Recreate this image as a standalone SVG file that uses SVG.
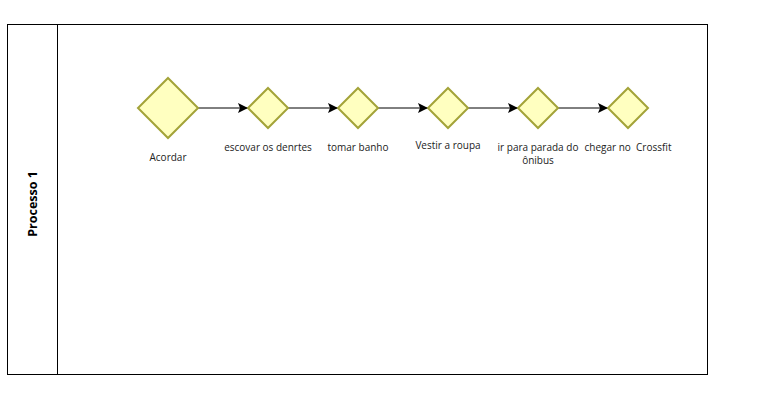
<svg xmlns="http://www.w3.org/2000/svg" width="768" height="411" viewBox="0 0 768 411">
<style>
.gw{fill:#ffffc0;stroke:#a3a338;stroke-width:2}
.lbl{font-family:"Open Sans","Noto Sans",sans-serif;font-size:10px;fill:#222;text-anchor:middle}
.pool{fill:#fff;stroke:#000;stroke-width:1}
.edge{stroke:#000;stroke-width:1;fill:none;marker-end:url(#arr)}
</style>
<defs>
<marker id="arr" viewBox="0 0 10 10" refX="10" refY="5" markerWidth="10" markerHeight="10" markerUnits="userSpaceOnUse" orient="auto">
<path d="M0,0 L10,5 L0,10 L2,5 Z" fill="#000"/>
</marker>
</defs>
<rect width="768" height="411" fill="#fff"/>
<g id="pool">
<rect class="pool" x="7.5" y="24.5" width="700" height="350"/>
<line x1="57.5" y1="24.5" x2="57.5" y2="374.5" stroke="#000"/>
<text x="0" y="0" transform="translate(37,204) rotate(-90)" font-family="'Open Sans','Noto Sans',sans-serif" font-size="12.5px" font-weight="bold" text-anchor="middle" fill="#000">Processo 1</text>
</g>
<g id="connectors">
<line class="edge" x1="198" y1="108" x2="248" y2="108"/>
<line class="edge" x1="288" y1="108" x2="338" y2="108"/>
<line class="edge" x1="378" y1="108" x2="428" y2="108"/>
<line class="edge" x1="468" y1="108" x2="518" y2="108"/>
<line class="edge" x1="558" y1="108" x2="608" y2="108"/>
</g>
<g id="acordar">
<polygon class="gw" points="168,78 198,108 168,138 138,108"/>
<text class="lbl" x="168" y="161">Acordar</text>
</g>
<g id="escovar">
<polygon class="gw" points="268,88 288,108 268,128 248,108"/>
<text class="lbl" x="268" y="151">escovar os denrtes</text>
</g>
<g id="tomar">
<polygon class="gw" points="358,88 378,108 358,128 338,108"/>
<text class="lbl" x="358" y="151">tomar banho</text>
</g>
<g id="vestir">
<polygon class="gw" points="448,88 468,108 448,128 428,108"/>
<text class="lbl" x="448" y="149">Vestir a roupa</text>
</g>
<g id="parada">
<polygon class="gw" points="538,88 558,108 538,128 518,108"/>
<text class="lbl" x="538" y="151">ir para parada do</text>
<text class="lbl" x="538" y="164">ônibus</text>
</g>
<g id="chegar">
<polygon class="gw" points="628,88 648,108 628,128 608,108"/>
<text class="lbl" x="628" y="151" xml:space="preserve">chegar no  Crossfit</text>
</g>
</svg>
